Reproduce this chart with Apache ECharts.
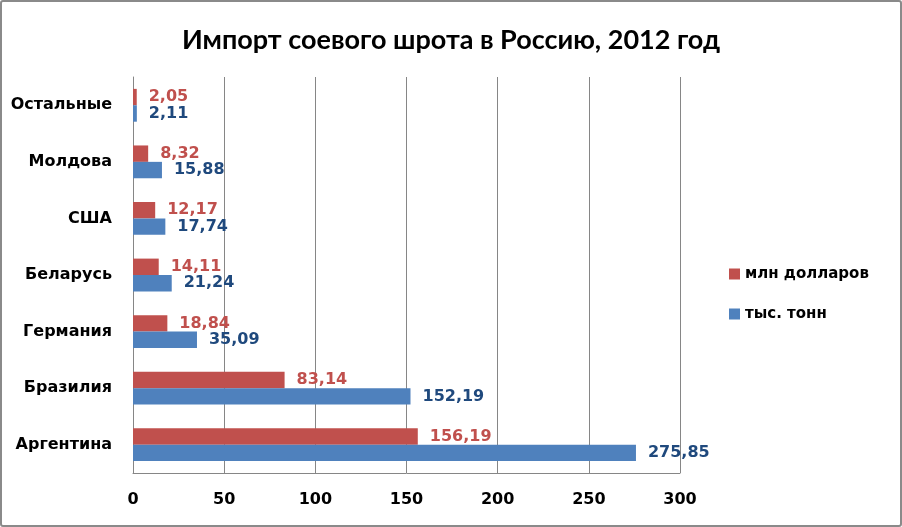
<!DOCTYPE html>
<html><head><meta charset="utf-8">
<script src="https://cdn.jsdelivr.net/npm/echarts@6/dist/echarts.min.js"></script>
<style>
html,body{margin:0;padding:0;background:#fff;}
#c{width:902px;height:527px;box-sizing:border-box;border:2px solid #8a8a8a;border-radius:3px;}
</style></head>
<body><div id="c"></div>
<script>
const categories = ['Аргентина','Бразилия','Германия','Беларусь','США','Молдова','Остальные'];
const tonnes = [275.85,152.19,35.09,21.24,17.74,15.88,2.11];
const dollars = [156.19,83.14,18.84,14.11,12.17,8.32,2.05];
const xTicks = [0,50,100,150,200,250,300];

const chart = echarts.init(document.getElementById('c'), null, {renderer:'canvas'});
const fmt = p => p.value.toFixed(2).replace('.', ',');
const lblFont = {fontFamily:'DejaVu Sans, Verdana, sans-serif', fontWeight:'bold', fontSize:16};
chart.setOption({
  animation:false,
  title:{text:'Импорт соевого шрота в Россию, 2012 год', left:'center', top:20,
    textStyle:{fontFamily:'Lato, Carlito, sans-serif', fontWeight:'bold', fontSize:27, color:'#000'}},
  legend:{data:['млн долларов','тыс. тонн'], orient:'vertical', left:727, top:263, padding:0,
    itemWidth:11, itemHeight:11, itemGap:22, icon:'rect',
    textStyle:{color:'#000', fontSize:15, lineHeight:18, fontFamily:'DejaVu Sans, Verdana, sans-serif', fontWeight:'bold'}},
  grid:{left:131, right:220, top:75, bottom:52, containLabel:false},
  xAxis:{type:'value', min:xTicks[0], max:xTicks[xTicks.length-1], interval:50,
    axisLine:{show:true, lineStyle:{color:'#868686', width:1}},
    axisTick:{show:false},
    splitLine:{show:true, lineStyle:{color:'#868686', width:1}},
    axisLabel:Object.assign({color:'#000', margin:19}, lblFont)},
  yAxis:{type:'category', data:categories,
    axisLine:{show:true, lineStyle:{color:'#868686', width:1}},
    axisTick:{show:false},
    axisLabel:Object.assign({color:'#000', margin:21}, lblFont)},
  series:[
    {name:'млн долларов', type:'bar', data:dollars, barGap:'0%', barCategoryGap:'42%',
     itemStyle:{color:'#C0504D'},
     label:Object.assign({show:true, position:'right', distance:12, color:'#C0504D', formatter:fmt}, lblFont)},
    {name:'тыс. тонн', type:'bar', data:tonnes, barGap:'0%', barCategoryGap:'42%',
     itemStyle:{color:'#4F81BD'},
     label:Object.assign({show:true, position:'right', distance:12, color:'#1F497D', formatter:fmt}, lblFont)}
  ]
});
</script></body></html>
